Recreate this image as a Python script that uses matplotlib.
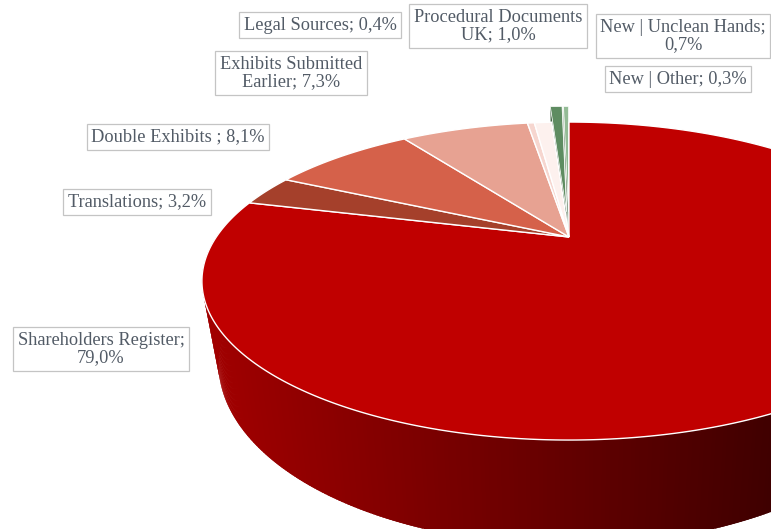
import numpy as np
import matplotlib.pyplot as plt
from matplotlib.patches import Polygon

# Data (Excel 3D pie, slices run clockwise from 12 o'clock)
names = ["Shareholders Register", "Translations", "Double Exhibits ", "Exhibits Submitted Earlier",
         "Legal Sources", "Procedural Documents UK", "New | Unclean Hands", "New | Other"]
shares = [79.0, 3.2, 8.1, 7.3, 0.4, 1.0, 0.7, 0.3]
colors = ["#C00000", "#A5402B", "#D5614A", "#E7A292", "#F6D6CF", "#FDF1EE", "#5E8C61", "#93BB95"]
explode = [0, 0, 0, 0, 0, 0, 0.18, 0.18]
# where the label text is wrapped
wrapped = ["Shareholders Register;\n79,0%", "Translations; 3,2%", "Double Exhibits ; 8,1%",
           "Exhibits Submitted\nEarlier; 7,3%", "Legal Sources; 0,4%", "Procedural Documents\nUK; 1,0%",
           "New | Unclean Hands;\n0,7%", "New | Other; 0,3%"]
label_pos = [(101, 349), (137, 202), (178, 137), (291, 73), (320, 25), (498, 26), (683, 36), (678, 79)]

# Projection of the tilted disc (pixel space)
CX, CY = 569, 237
R, Q, P = 352.7, 146.8, 0.277
DEPTH, SHRINK = 76, 0.955


def project(u, v, down=0.0):
    k = 1 / (1 + P * v)
    s = 1 - (1 - SHRINK) * down
    return CX + R * u * k * s, CY - Q * v * k + DEPTH * down * k


def shade(color, x):
    f = np.clip(0.85 - 0.52 * (x - 200) / 571, 0.3, 0.9)
    rgb = np.array(plt.matplotlib.colors.to_rgb(color))
    return tuple(rgb * f)


fig = plt.figure(figsize=(7.71, 5.29), dpi=100)
ax = fig.add_axes([0, 0, 1, 1])
ax.set_xlim(0, 771)
ax.set_ylim(529, 0)
ax.axis("off")

bounds = np.concatenate([[0], np.cumsum(shares)]) / sum(shares) * 360

for i in range(len(shares)):
    a0, a1 = np.radians(bounds[i]), np.radians(bounds[i + 1])
    mid = (a0 + a1) / 2
    ou, ov = explode[i] * np.sin(mid), explode[i] * np.cos(mid)
    phi = np.linspace(a0, a1, max(int(np.degrees(a1 - a0)) * 2, 4))
    z = 0.5 if explode[i] else 1

    # outer side of the slice (front half only), strips overlap to hide seams
    for p0, p1 in zip(phi[:-1], phi[1:]):
        if np.cos((p0 + p1) / 2) > 0.02:
            continue
        p2 = min(p1 + 0.8 * (p1 - p0), a1)
        pts = [project(ou + np.sin(p0), ov + np.cos(p0)), project(ou + np.sin(p2), ov + np.cos(p2)),
               project(ou + np.sin(p2), ov + np.cos(p2), 1), project(ou + np.sin(p0), ov + np.cos(p0), 1)]
        xm = np.mean([p[0] for p in pts])
        ax.add_patch(Polygon(pts, closed=True, fc=shade(colors[i], xm), ec="none", zorder=z))

    # radial face for exploded slices
    if explode[i]:
        face = [project(ou, ov), project(ou + np.sin(a0), ov + np.cos(a0)),
                project(ou + np.sin(a0), ov + np.cos(a0), 0.35), project(ou, ov, 0.35)]
        ax.add_patch(Polygon(face, closed=True, fc=shade(colors[i], 330), ec="none", zorder=z))

    # top face
    top = [project(ou, ov)] + [project(ou + np.sin(p), ov + np.cos(p)) for p in phi]
    ax.add_patch(Polygon(top, closed=True, fc=colors[i], ec="white",
                         lw=0.5 if explode[i] else 1.0, zorder=z + 1))

# Labels
for text, (x, y) in zip(wrapped, label_pos):
    ax.text(x, y, text, ha="center", va="center", multialignment="center",
            family="Liberation Serif", fontsize=13.2, color="#525B66", linespacing=1.0, zorder=6,
            bbox=dict(boxstyle="square,pad=0.25", fc="white", ec="#C4C4C4", lw=0.9))

fig.savefig("out.png", dpi=100)
